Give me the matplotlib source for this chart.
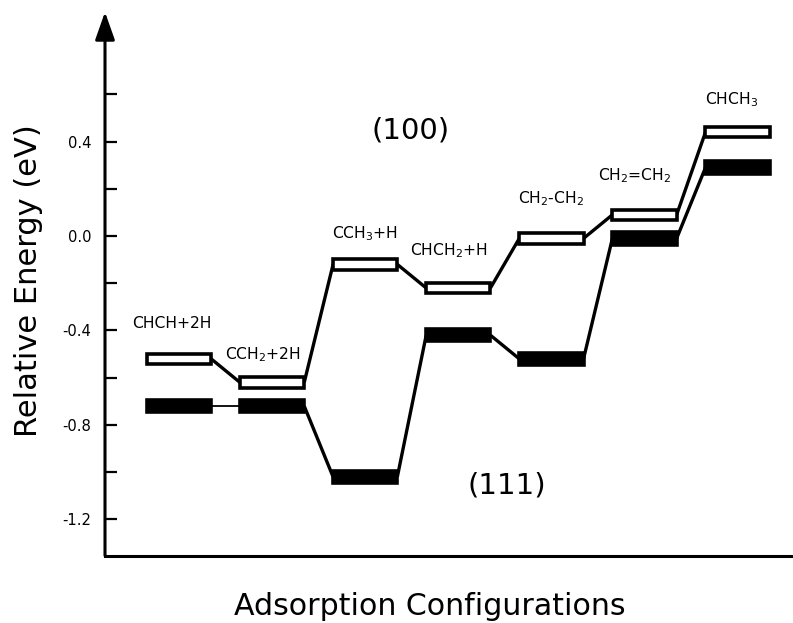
import matplotlib
matplotlib.use("Agg")
import matplotlib.pyplot as plt
import numpy as np

plt.rcParams['font.family'] = ['DejaVu Sans']
plt.rcParams['mathtext.fontset'] = 'dejavusans'
plt.rcParams['mathtext.default'] = 'regular'
plt.rcParams['axes.unicode_minus'] = False

# ---------------- data ----------------
configs = [r'CHCH+2H', r'CCH$_2$+2H', r'CCH$_3$+H', r'CHCH$_2$+H',
           r'CH$_2$-CH$_2$', r'CH$_2$=CH$_2$', r'CHCH$_3$']
energy_100 = [-0.52, -0.62, -0.12, -0.22, -0.01, 0.09, 0.44]
energy_111 = [-0.72, -0.72, -1.02, -0.42, -0.52, -0.01, 0.29]
ytick_major = [0.4, 0.0, -0.4, -0.8, -1.2]
ytick_minor = [0.6, 0.2, -0.2, -0.6, -1.0]
surface_labels = ['(100)', '(111)']

# ---------------- layout / style ----------------
W, H = 793, 623
fig = plt.figure(figsize=(W / 100, H / 100), dpi=100)
ax = fig.add_axes([105 / W, 67.5 / H, 1 - 105 / W, 543.5 / H])
ax.set_xlim(0.205, 7.595)
ax.set_ylim(-1.353, 0.949)

x = np.arange(1, len(configs) + 1)
bar_w = 0.69
h_open = 0.044
h_fill = 0.052
lw_bar = 2.6

# connector lines
def connectors(energies, widths):
    for i in range(len(energies) - 1):
        ax.plot([x[i] + bar_w / 2, x[i + 1] - bar_w / 2],
                [energies[i], energies[i + 1]], color='black',
                lw=widths[i], solid_capstyle='butt', zorder=2)

connectors(energy_100, [2.4] * 6)
connectors(energy_111, [1.3, 2.4, 2.4, 2.4, 2.4, 2.4])

ax.bar(x, [h_open] * len(x), bottom=np.array(energy_100) - h_open / 2,
       width=bar_w, color='white', edgecolor='black', linewidth=lw_bar,
       zorder=3)
ax.bar(x, [h_fill] * len(x), bottom=np.array(energy_111) - h_fill / 2,
       width=bar_w, color='black', edgecolor='black', linewidth=lw_bar,
       zorder=3)

# species labels (offsets relative to (100) level)
lab_dx = [-0.075, -0.10, 0.0, -0.10, 0.0, -0.11, -0.06]
lab_dy = [0.150, 0.116, 0.130, 0.160, 0.167, 0.165, 0.136]
for i, name in enumerate(configs):
    ax.text(x[i] + lab_dx[i], energy_100[i] + lab_dy[i], name,
            ha='center', va='center', fontsize=11.2, zorder=4)

ax.text(3.49, 0.445, surface_labels[0], ha='center', va='center', fontsize=21)
ax.text(4.52, -1.055, surface_labels[1], ha='center', va='center', fontsize=21)

# axes styling
for s in ['top', 'right', 'left']:
    ax.spines[s].set_visible(False)
ax.spines['bottom'].set_linewidth(2.2)
ax.set_xticks([])
ax.set_yticks(ytick_major)
ax.set_yticklabels(['%.1f' % v for v in ytick_major])
ax.set_yticks(ytick_minor, minor=True)
ax.tick_params(axis='y', which='both', direction='in', length=8.6, width=1.6,
               pad=10, labelsize=10.6)
ax.tick_params(axis='y', which='minor', labelleft=False)

ax.annotate('', xy=(0, 1), xytext=(0, 0), xycoords='axes fraction',
            textcoords='axes fraction',
            arrowprops=dict(arrowstyle='-|>,head_length=0.85,head_width=0.3',
                            mutation_scale=20, lw=2.2, color='black',
                            shrinkA=0, shrinkB=0))

fig.text(29 / W, 1 - 280.5 / H, 'Relative Energy (eV)', rotation=90,
         ha='center', va='center', fontsize=22)
fig.text(429.5 / W, 8 / H, 'Adsorption Configurations', ha='center',
         va='baseline', fontsize=21.6)

fig.savefig('out.png', dpi=100)
